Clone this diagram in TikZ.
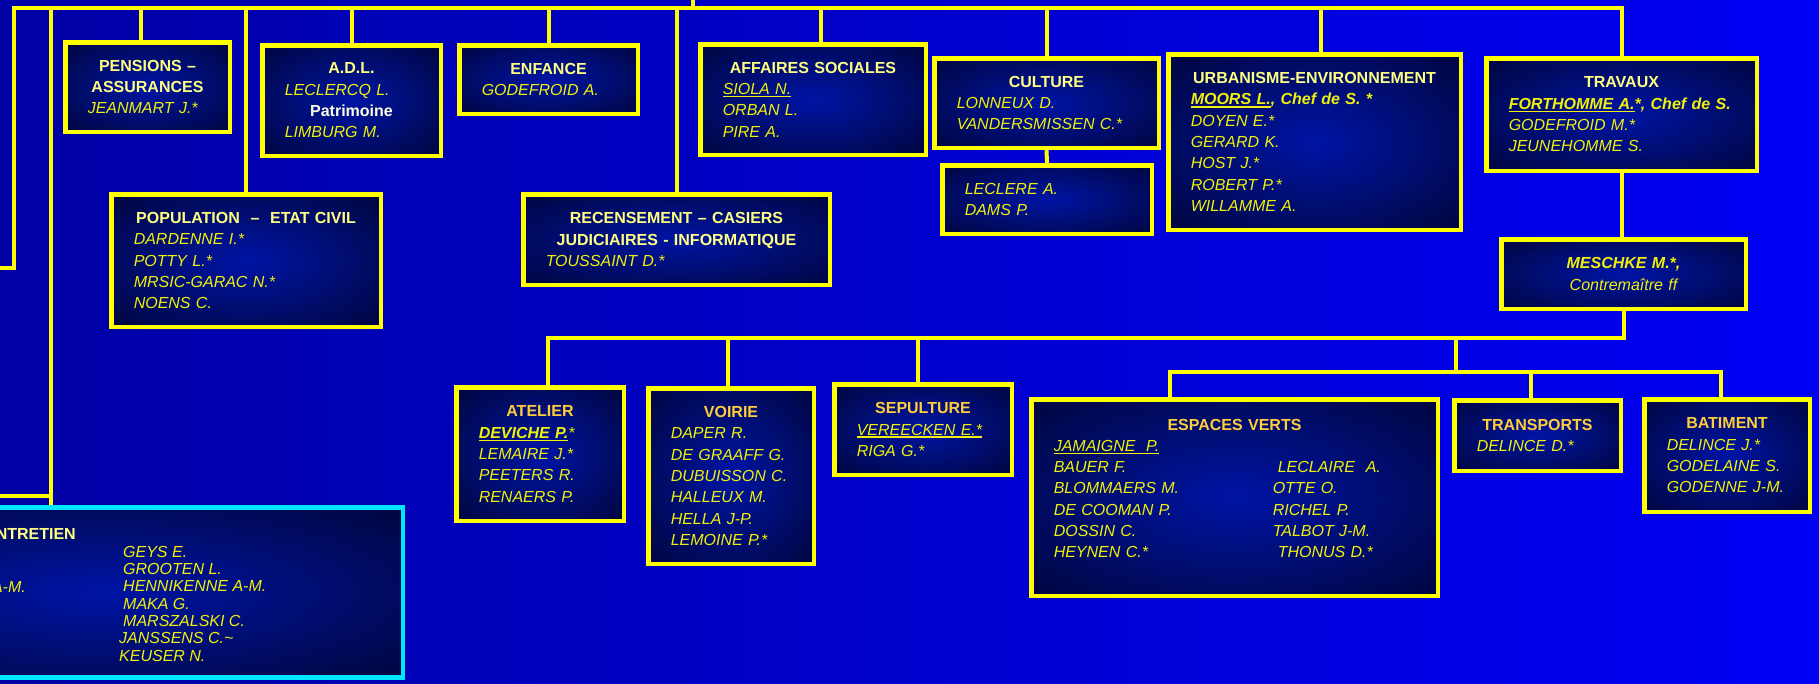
\documentclass[tikz,border=0pt]{standalone}
\usepackage{fontspec}
\setmainfont{Liberation Sans}
\usetikzlibrary{positioning,calc}
\setlength{\parindent}{0pt}

\definecolor{bgL}{RGB}{0,0,165}
\definecolor{bgR}{RGB}{0,0,245}
\definecolor{lineyellow}{RGB}{255,255,0}
\definecolor{nameyellow}{RGB}{240,240,10}
\definecolor{titlepale}{RGB}{255,255,130}
\definecolor{titlegold}{RGB}{255,205,60}
\definecolor{patriwhite}{RGB}{255,255,225}
\definecolor{boxmid}{RGB}{0,20,165}
\definecolor{boxedge}{RGB}{0,0,20}
\definecolor{entcyan}{RGB}{0,230,255}

\pgfdeclareradialshading{boxglow}{\pgfpoint{0bp}{0bp}}{color(0bp)=(boxmid); color(50bp)=(boxedge); color(100bp)=(boxedge)}

\newcommand{\hd}[2][titlepale]{\noindent\hbox to\hsize{\hss\upshape\bfseries\color{#1}#2\hss}}
\newcommand{\ul}[1]{\leavevmode\setbox0=\hbox{#1}\rlap{\rule[-3pt]{\wd0}{1.6pt}}\box0}
\newcommand{\twocol}[1]{\makebox[219pt][l]{#1}}

\tikzset{
  orgbox/.style={rectangle, draw=lineyellow, line width=4.5pt, shade, shading=boxglow,
    inner xsep=22.5pt, inner ysep=0pt, align=left, text=nameyellow,
    font=\fontsize{16}{21.3}\selectfont\itshape},
  boxsize/.code 2 args={\pgfmathsetmacro\bw{#1-45}%
    \tikzset{minimum width=#1pt, minimum height=#2pt, text width=\bw pt}},
  link/.style={draw=lineyellow, line width=4pt},
  enttext/.style={inner sep=0pt, text=nameyellow, font=\fontsize{16}{17.3}\selectfont\itshape},
}

\begin{document}
\begin{tikzpicture}[x=1pt,y=-1pt]
\useasboundingbox (0,0) rectangle (1819,683);
\clip (0,0) rectangle (1819,683);
\fill[left color=bgL, right color=bgR] (0,0) rectangle (1819,683);

\node[orgbox, boxsize={164.5}{89.5}] (pens) at (147.5,87) {\hd{PENSIONS –}\\ \hd{ASSURANCES}\\ JEANMART J.*};
\node[orgbox, boxsize={178.5}{110.5}] (adl) at (351.5,100.5) {\hd{A.D.L.}\\ LECLERCQ L.\\ \hd[patriwhite]{Patrimoine}\\ LIMBURG M.};
\node[orgbox, boxsize={178.5}{68.5}] (enf) at (548.5,79.5) {\hd{ENFANCE}\\ GODEFROID A.};
\node[orgbox, boxsize={269.5}{132.5}] (pop) at (246,260.5) {\hd{POPULATION\ \ –\ \ ETAT CIVIL}\\ DARDENNE I.*\\ POTTY L.*\\ MRSIC-GARAC N.*\\ NOENS C.};
\node[orgbox, boxsize={306.5}{90.5}] (rec) at (676.5,239.5) {\hd{RECENSEMENT – CASIERS}\\ \hd{JUDICIAIRES - INFORMATIQUE}\\ TOUSSAINT D.*};
\node[orgbox, boxsize={225.5}{110.5}] (aff) at (813,99.5) {\hd{AFFAIRES SOCIALES}\\ \ul{SIOLA N.}\\ ORBAN L.\\ PIRE A.};
\node[orgbox, boxsize={224.5}{89.5}] (cul) at (1046.5,103) {\hd{CULTURE}\\ LONNEUX D.\\ VANDERSMISSEN C.*};
\node[orgbox, boxsize={209.5}{68.5}] (lec) at (1047,199.5) {LECLERE A.\\ DAMS P.};
\node[orgbox, boxsize={292.5}{175.5}] (urb) at (1314.5,142) {\hd{URBANISME-ENVIRONNEMENT}\\ \mbox{\bfseries\ul{MOORS L.}, Chef de S. *}\\ DOYEN E.*\\ GERARD K.\\ HOST J.*\\ ROBERT P.*\\ WILLAMME A.};
\node[orgbox, boxsize={270.5}{112.5}] (trv) at (1621.5,114.5) {\hd{TRAVAUX}\\ \mbox{\bfseries\ul{FORTHOMME A.}*, Chef de S.}\\ GODEFROID M.*\\ JEUNEHOMME S.};
\node[orgbox, boxsize={244.5}{69.5}, align=center] (mes) at (1623.5,274) {{\bfseries MESCHKE M.*,}\\ Contremaître ff};

\node[orgbox, boxsize={167.5}{133.5}] (ate) at (540,454) {\hd[titlegold]{ATELIER}\\ {\bfseries\ul{DEVICHE P.}}*\\ LEMAIRE J.*\\ PEETERS R.\\ RENAERS P.};
\node[orgbox, boxsize={165.5}{175.5}] (voi) at (731,476) {\hd[titlegold]{VOIRIE}\\ DAPER R.\\ DE GRAAFF G.\\ DUBUISSON C.\\ HALLEUX M.\\ HELLA J-P.\\ LEMOINE P.*};
\node[orgbox, boxsize={177.5}{90.5}] (sep) at (923,429.5) {\hd[titlegold]{SEPULTURE}\\ \ul{VEREECKEN E.*}\\ RIGA G.*};
\node[orgbox, boxsize={406.5}{196.5}] (esp) at (1234.5,497.5) {\hd[titlegold]{ESPACES VERTS}\\ \ul{JAMAIGNE\ \ P.}\\
  \twocol{BAUER F.}\hspace*{5pt}LECLAIRE\ \ A.\\ \twocol{BLOMMAERS M.}OTTE O.\\ \twocol{DE COOMAN P.}RICHEL P.\\
  \twocol{DOSSIN C.}TALBOT J-M.\\ \twocol{HEYNEN C.*}\hspace*{5pt}THONUS D.*\\[-3pt]\mbox{}};
\node[orgbox, boxsize={166.5}{70.5}] (tra) at (1537.5,435.5) {\hd[titlegold]{TRANSPORTS}\\ DELINCE D.*};
\node[orgbox, boxsize={165.5}{112.5}] (bat) at (1727,455.5) {\hd[titlegold]{BATIMENT}\\ DELINCE J.*\\ GODELAINE S.\\ GODENNE J-M.};

\node[orgbox, draw=entcyan, boxsize={606}{170}] (ent) at (100,592.5) {};
\node[enttext, anchor=base east, text=titlepale, font=\fontsize{16}{17.3}\selectfont\bfseries] (entHd) at (76,539) {NTRETIEN};
\node[enttext, anchor=base east] (entA) at (26,592) {A-M.};
\node[enttext, anchor=base west, align=left] (entN) at (119,661) {\hspace*{4pt}GEYS E.\\ \hspace*{4pt}GROOTEN L.\\ \hspace*{4pt}HENNIKENNE A-M.\\ \hspace*{4pt}MAKA G.\\ \hspace*{4pt}MARSZALSKI C.\\ JANSSENS C.\textasciitilde\\ KEUSER N.};

\coordinate (up) at (693,0);
\coordinate (busW) at (14,7.5);
\coordinate (edgeA) at (0,268);
\coordinate (edgeB) at (0,496);
\coordinate (entTap) at (50.5,7.5);
\coordinate (b3) at (0,338);
\coordinate (b4) at (1456,372);

\draw[link] (up) -- (up |- busW);
\draw[link] (edgeA) -| (busW) -- (busW -| trv.north) -- (trv.north);
\draw[link] (edgeB) -| (entTap |- ent.north);
\draw[link] (entTap) -- (entTap |- ent.north);
\draw[link] ([xshift=-7pt]pens.north) |- (busW);
\draw[link] (adl.north) |- (busW);
\draw[link] (enf.north) |- (busW);
\draw[link] (pop.north) |- (busW);
\draw[link] (rec.north) |- (busW);
\draw[link] ([xshift=8pt]aff.north) |- (busW);
\draw[link] (cul.north) |- (busW);
\draw[link] ([xshift=6.5pt]urb.north) |- (busW);
\draw[link] (cul.south) -- (lec.north);
\draw[link] (trv.south) -- (trv.south |- mes.north);
\draw[link] (mes.south) -- (mes.south |- b3) -| ([xshift=8pt]ate.north);
\draw[link] ([xshift=-3pt]voi.north) |- (b3 -| mes.south);
\draw[link] ([xshift=-5pt]sep.north) |- (b3 -| mes.south);
\draw[link] (b4) -- (b4 |- b3);
\draw[link] ([xshift=-64.5pt]esp.north) |- (b4) -| ([xshift=-6pt]bat.north);
\draw[link] ([xshift=-6.5pt]tra.north) |- (b4);
\end{tikzpicture}
\end{document}
